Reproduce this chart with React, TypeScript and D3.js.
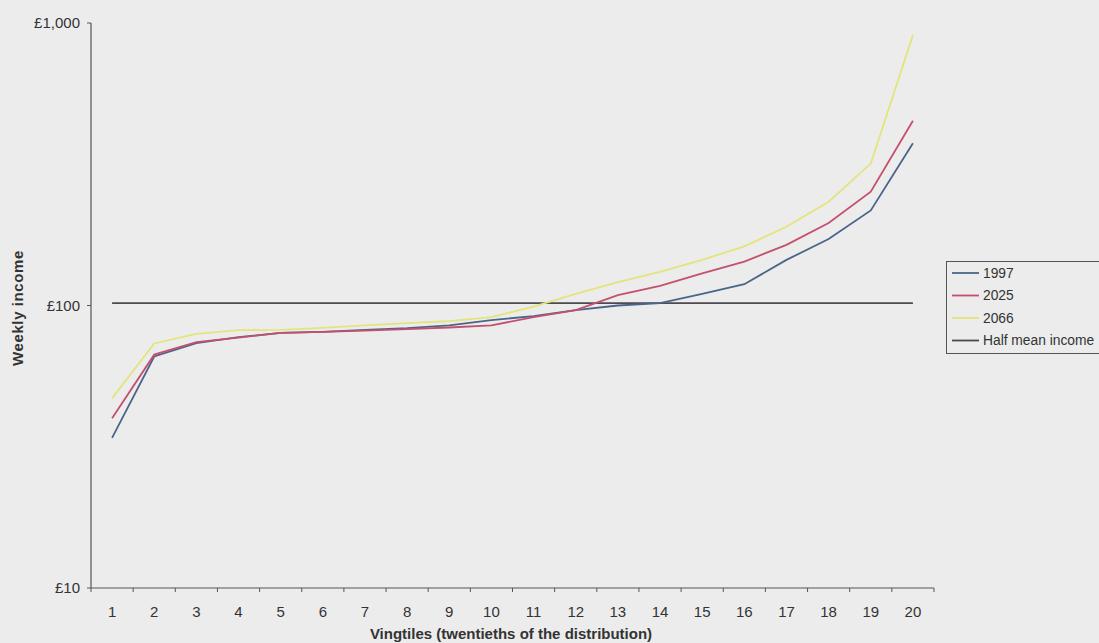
import React from "react";
import * as d3 from "d3";

const vingtiles = d3.range(1, 21);
const series1997 = [34, 66, 73.6, 77.3, 80, 80.6, 82, 83.2, 85.1, 88.8, 91.7, 96.3, 100, 102, 110, 119, 145, 172, 217, 375];
const series2025 = [39.9, 67, 74.2, 77, 80, 80.6, 81.5, 82.5, 83.6, 85, 91, 96.3, 108.8, 117.4, 130, 143, 164, 196, 253, 451];
const series2066 = [46.9, 73.4, 79.3, 81.8, 82, 83.3, 85, 86.6, 88, 91, 99, 110, 121, 131.5, 145, 162, 190, 233, 318, 906];
const halfMean = 102;
const yTicks = [10, 100, 1000];
const yTickLabels = ["£10", "£100", "£1,000"];

const seriesList = [
  { name: "1997", values: series1997, color: "#4a6589" },
  { name: "2025", values: series2025, color: "#c4506e" },
  { name: "2066", values: series2066, color: "#e4e47c" },
];

export default function App() {
  const W = 1099, H = 643;
  const left = 91, right = 934, top = 23, bottom = 588;
  const x = d3.scaleBand<number>().domain(vingtiles).range([left, right]);
  const y = d3.scaleLog().domain([10, 1000]).range([bottom, top]);
  const cx = (d: number) => (x(d) as number) + x.bandwidth() / 2;
  const line = d3.line<number>().x((_, i) => cx(vingtiles[i])).y((v) => y(v));
  const font = "'Liberation Sans', Arial, sans-serif";
  const legendItems = [
    ...seriesList.map((s) => ({ name: s.name, color: s.color })),
    { name: "Half mean income", color: "#4e4a50" },
  ];
  const boundaries = d3.range(0, 21).map((k) => left + k * x.step());
  return (
    <svg width={W} height={H} style={{ position: "absolute", left: 0, top: 0 }} fontFamily={font}>
      <rect x={0} y={0} width={W} height={H} fill="#ececec" />
      {/* half mean line */}
      <line x1={cx(1)} x2={cx(20)} y1={y(halfMean)} y2={y(halfMean)} stroke="#4e4a50" strokeWidth={1.8} />
      {seriesList.map((s) => (
        <path key={s.name} d={line(s.values) || ""} fill="none" stroke={s.color} strokeWidth={1.8} />
      ))}
      {/* axes */}
      <line x1={left} x2={left} y1={top} y2={bottom} stroke="#555" strokeWidth={1.2} />
      <line x1={left} x2={right} y1={bottom} y2={bottom} stroke="#555" strokeWidth={1.2} />
      {yTicks.map((t, i) => (
        <g key={t}>
          <line x1={left - 4} x2={left} y1={y(t)} y2={y(t)} stroke="#555" />
          <text x={left - 11} y={y(t)} dy="0.35em" textAnchor="end" fontSize={15} fill="#333">
            {yTickLabels[i]}
          </text>
        </g>
      ))}
      {boundaries.map((b, i) => (
        <line key={i} x1={b} x2={b} y1={bottom} y2={bottom + 4} stroke="#555" />
      ))}
      {vingtiles.map((v) => (
        <text key={v} x={cx(v)} y={bottom + 29} textAnchor="middle" fontSize={15} fill="#333">
          {v}
        </text>
      ))}
      <text x={511} y={639} textAnchor="middle" fontSize={15} fontWeight="bold" fill="#333">
        Vingtiles (twentieths of the distribution)
      </text>
      <text transform={`translate(23,308) rotate(-90)`} textAnchor="middle" fontSize={15} fontWeight="bold" fill="#333" letterSpacing={0.6}>
        Weekly income
      </text>
      {/* legend */}
      <rect x={946.5} y={261.5} width={170} height={92} fill="#ececec" stroke="#555" strokeWidth={1} />
      {legendItems.map((it, i) => (
        <g key={it.name} transform={`translate(0,${273 + i * 22.5})`}>
          <line x1={952} x2={979} y1={0} y2={0} stroke={it.color} strokeWidth={1.8} />
          <text x={983} y={0} dy="0.35em" fontSize={13.8} fill="#333">
            {it.name}
          </text>
        </g>
      ))}
    </svg>
  );
}
